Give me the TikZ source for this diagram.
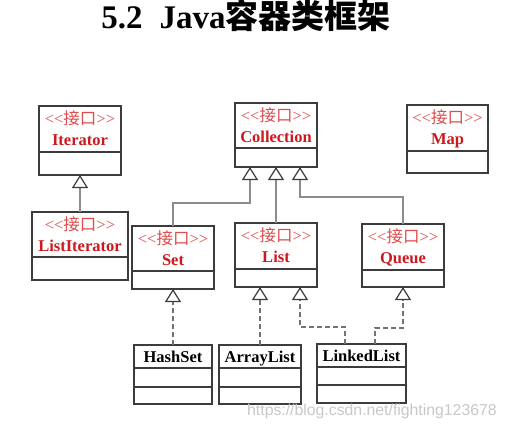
\documentclass[tikz,border=0pt]{standalone}
\usepackage{fontspec}
\setmainfont{Liberation Serif}
\newfontfamily\cjk{Noto Sans CJK SC}
\newfontfamily\wmfont{Liberation Sans}
\usetikzlibrary{arrows.meta}
\definecolor{namered}{RGB}{205,25,30}
\definecolor{stred}{RGB}{225,75,75}
\definecolor{boxline}{RGB}{60,60,60}
\definecolor{conn}{RGB}{140,140,140}
\definecolor{dconn}{RGB}{115,115,115}
\definecolor{wm}{RGB}{200,200,200}
\tikzset{
  umlbox/.style={draw=boxline, line width=1.3pt, rectangle, inner sep=0pt, outer sep=0pt},
  divline/.style={draw=boxline, line width=1.3pt},
  stereo/.style={anchor=base, inner sep=0pt, text=stred, font=\fontsize{16.5}{17}\selectfont},
  iname/.style={anchor=base, inner sep=0pt, text=namered, font=\fontsize{16.5}{17}\selectfont\bfseries},
  cname/.style={anchor=base, inner sep=0pt, text=black, font=\fontsize{16.5}{17}\selectfont\bfseries},
  inh/.style={draw=conn, line width=1.2pt, -{Triangle[open, length=13pt, width=16pt, line width=1.2pt, color=boxline]}},
  realize/.style={inh, draw=dconn, line width=1.3pt, dash pattern=on 5pt off 3pt},
}
\newcommand\stxt{<\kern0pt<{\cjk 接口}>\kern0pt>}
\begin{document}
\begin{tikzpicture}[x=1pt,y=-1pt]
\useasboundingbox[fill=white] (0,0) rectangle (507,429);

% title
\node[anchor=base, inner sep=0pt, font=\fontsize{33}{34}\selectfont\bfseries] (title) at (246,28)
  {5.2\hspace{17pt}Java{\cjk 容器类框架}};

% interface boxes
\node[umlbox, minimum width=82pt, minimum height=69pt] (iter) at (80,140.5) {};
\node[stereo] (iterS) at ([yshift=-18pt]iter.north) {\stxt};
\node[iname] (iterN) at ([yshift=-39pt]iter.north) {Iterator};
\draw[divline] ([yshift=-46pt]iter.north west) -- ([yshift=-46pt]iter.north east);

\node[umlbox, minimum width=96pt, minimum height=68pt] (liter) at (80,246) {};
\node[stereo] (literS) at ([yshift=-18pt]liter.north) {\stxt};
\node[iname] (literN) at ([yshift=-39pt]liter.north) {ListIterator};
\draw[divline] ([yshift=-45pt]liter.north west) -- ([yshift=-45pt]liter.north east);

\node[umlbox, minimum width=82pt, minimum height=64pt] (coll) at (276,135) {};
\node[stereo] (collS) at ([yshift=-18pt]coll.north) {\stxt};
\node[iname] (collN) at ([yshift=-39pt]coll.north) {Collection};
\draw[divline] ([yshift=-45pt]coll.north west) -- ([yshift=-45pt]coll.north east);

\node[umlbox, minimum width=81pt, minimum height=68pt] (map) at (447.5,139) {};
\node[stereo] (mapS) at ([yshift=-18pt]map.north) {\stxt};
\node[iname] (mapN) at ([yshift=-39pt]map.north) {Map};
\draw[divline] ([yshift=-46pt]map.north west) -- ([yshift=-46pt]map.north east);

\node[umlbox, minimum width=82pt, minimum height=63pt] (set) at (173,257.5) {};
\node[stereo] (setS) at ([yshift=-18pt]set.north) {\stxt};
\node[iname] (setN) at ([yshift=-39pt]set.north) {Set};
\draw[divline] ([yshift=-45pt]set.north west) -- ([yshift=-45pt]set.north east);

\node[umlbox, minimum width=82pt, minimum height=64pt] (list) at (276,255) {};
\node[stereo] (listS) at ([yshift=-18pt]list.north) {\stxt};
\node[iname] (listN) at ([yshift=-39pt]list.north) {List};
\draw[divline] ([yshift=-46pt]list.north west) -- ([yshift=-46pt]list.north east);

\node[umlbox, minimum width=82pt, minimum height=63pt] (queue) at (403,255.5) {};
\node[stereo] (queueS) at ([yshift=-18pt]queue.north) {\stxt};
\node[iname] (queueN) at ([yshift=-39pt]queue.north) {Queue};
\draw[divline] ([yshift=-46pt]queue.north west) -- ([yshift=-46pt]queue.north east);

% class boxes
\node[umlbox, minimum width=78pt, minimum height=59pt] (hset) at (173,374.5) {};
\node[cname] (hsetN) at ([yshift=-17pt]hset.north) {HashSet};
\draw[divline] ([yshift=-23pt]hset.north west) -- ([yshift=-23pt]hset.north east);
\draw[divline] ([yshift=-42pt]hset.north west) -- ([yshift=-42pt]hset.north east);

\node[umlbox, minimum width=82pt, minimum height=59pt] (alist) at (260,374.5) {};
\node[cname] (alistN) at ([yshift=-17pt]alist.north) {ArrayList};
\draw[divline] ([yshift=-23pt]alist.north west) -- ([yshift=-23pt]alist.north east);
\draw[divline] ([yshift=-42pt]alist.north west) -- ([yshift=-42pt]alist.north east);

\node[umlbox, minimum width=89pt, minimum height=59pt] (llist) at (361.5,373.5) {};
\node[cname] (llistN) at ([yshift=-17pt]llist.north) {LinkedList};
\draw[divline] ([yshift=-23pt]llist.north west) -- ([yshift=-23pt]llist.north east);
\draw[divline] ([yshift=-41pt]llist.north west) -- ([yshift=-41pt]llist.north east);

% generalisations
\draw[inh] (liter.north) -- (liter.north |- iter.south);
\draw[inh] (set.north) -- ++(0,-23) -| ([xshift=-26pt]coll.south);
\draw[inh] (list.north) -- (list.north |- coll.south);
\draw[inh] (queue.north) -- ++(0,-27) -| ([xshift=24pt]coll.south);

% realisations
\draw[realize] (hset.north) -- (hset.north |- set.south);
\draw[realize] (alist.north) -- (alist.north |- list.south);
\draw[realize] ([xshift=-16.5pt]llist.north) -- ++(0,-17) -| ([xshift=24pt]list.south);
\draw[realize] ([xshift=13.5pt]llist.north) -- ++(0,-16) -| (queue.south);

% watermark
\node[anchor=base west, inner sep=0pt, text=wm, font=\wmfont\fontsize{15.8}{16}\selectfont] (wmark) at (247,415) {https://blog.csdn.net/fighting123678};
\end{tikzpicture}
\end{document}
